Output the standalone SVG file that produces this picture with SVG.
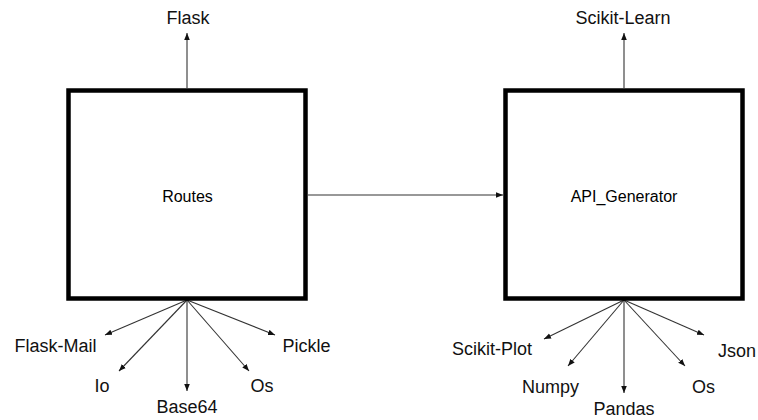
<svg xmlns="http://www.w3.org/2000/svg" width="758" height="420" viewBox="0 0 758 420">
  <style>
    .box { fill: #ffffff; stroke: #000000; stroke-width: 4.5; }
    .link { stroke: #333333; stroke-width: 1.1; fill: none; marker-end: url(#head); }
    .name { font-family: "Liberation Sans", Arial, sans-serif; font-size: 16px; fill: #000000; text-anchor: middle; }
    .lib { font-family: "Liberation Sans", Arial, sans-serif; font-size: 18px; fill: #111111; text-anchor: middle; }
  </style>
  <defs>
    <marker id="head" viewBox="0 0 10 10" refX="10" refY="5" markerWidth="7" markerHeight="7" markerUnits="userSpaceOnUse" orient="auto">
      <path d="M0,1 L10,5 L0,9 Z" fill="#111111"/>
    </marker>
  </defs>
  <rect width="758" height="420" fill="#ffffff"/>

  <g id="connectors">
    <!-- Routes dependencies -->
    <line class="link" x1="187" y1="88" x2="187" y2="33"/>
    <line class="link" x1="187" y1="300" x2="105" y2="335"/>
    <line class="link" x1="187" y1="300" x2="119" y2="371"/>
    <line class="link" x1="187" y1="300" x2="187" y2="391"/>
    <line class="link" x1="187" y1="300" x2="249" y2="371"/>
    <line class="link" x1="187" y1="300" x2="275" y2="335"/>
    <!-- Routes to API_Generator -->
    <line class="link" x1="308" y1="195" x2="503" y2="195"/>
    <!-- API_Generator dependencies -->
    <line class="link" x1="624" y1="88" x2="624" y2="33"/>
    <line class="link" x1="624" y1="300" x2="544" y2="339"/>
    <line class="link" x1="624" y1="300" x2="568" y2="366"/>
    <line class="link" x1="624" y1="300" x2="624" y2="393"/>
    <line class="link" x1="624" y1="300" x2="685" y2="366"/>
    <line class="link" x1="624" y1="300" x2="704" y2="335"/>
  </g>

  <g id="routes">
    <rect class="box" x="68.5" y="90.5" width="237" height="208"/>
    <text class="name" x="187.5" y="202">Routes</text>
  </g>
  <g id="api-generator">
    <rect class="box" x="505.5" y="90.5" width="237" height="208"/>
    <text class="name" x="624" y="202">API_Generator</text>
  </g>

  <g id="flask"><text class="lib" x="188" y="24">Flask</text></g>
  <g id="flask-mail"><text class="lib" x="55.5" y="352">Flask-Mail</text></g>
  <g id="io"><text class="lib" x="102" y="392">Io</text></g>
  <g id="base64"><text class="lib" x="187" y="413">Base64</text></g>
  <g id="os-routes"><text class="lib" x="262" y="392">Os</text></g>
  <g id="pickle"><text class="lib" x="306.5" y="352">Pickle</text></g>

  <g id="scikit-learn"><text class="lib" x="623" y="24">Scikit-Learn</text></g>
  <g id="scikit-plot"><text class="lib" x="492" y="355">Scikit-Plot</text></g>
  <g id="numpy"><text class="lib" x="550.5" y="393">Numpy</text></g>
  <g id="pandas"><text class="lib" x="624" y="415">Pandas</text></g>
  <g id="os-api"><text class="lib" x="703.5" y="393">Os</text></g>
  <g id="json"><text class="lib" x="737" y="357">Json</text></g>
</svg>
